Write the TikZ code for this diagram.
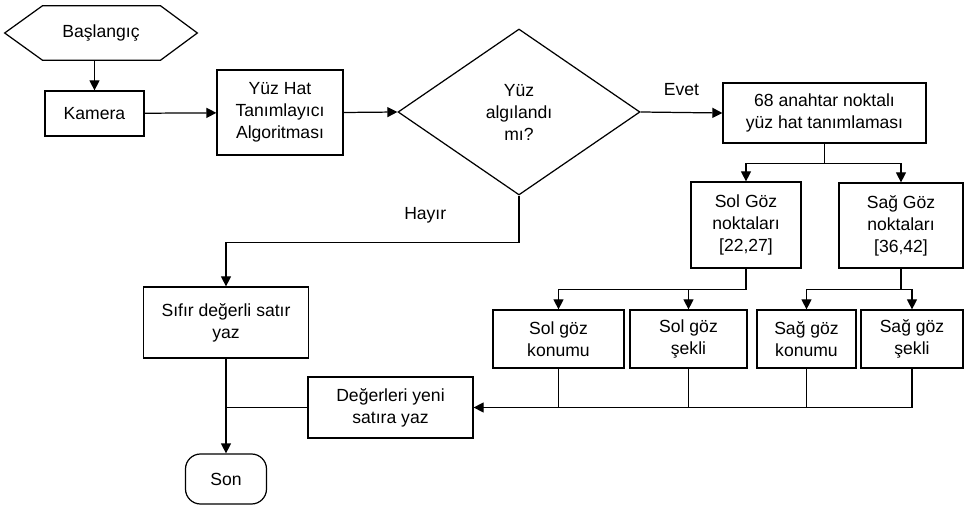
\documentclass[tikz,border=0pt]{standalone}
\usepackage{fontspec}
\setmainfont{Liberation Sans}
\usetikzlibrary{shapes.geometric,arrows.meta}

\begin{document}
\begin{tikzpicture}[font=\fontsize{10}{12.5}\selectfont]
    % Define styles
    \tikzset{
        box/.style={rectangle, draw, line width=0.7pt, align=center, inner sep=2pt},
        decision/.style={diamond, draw, line width=0.7pt, aspect=1.46, minimum width=4.84cm, minimum height=3.32cm, inner sep=0pt, align=center},
        terminal/.style={rectangle, rounded corners=0.3cm, draw, line width=0.7pt, minimum width=1.62cm, minimum height=1cm},
        arrow/.style={-{Triangle[width=0.2cm,length=0.2cm]}, line width=0.7pt},
        link/.style={line width=0.7pt},
        tag/.style={inner sep=2pt},
    }
    \useasboundingbox (0,0) rectangle (19.28,-10.14);

    % Start and camera
    \node[minimum width=3.84cm, minimum height=1.08cm] (start) at (2.02,-0.66) {Başlangıç};
    \draw[link] (start.west) -- ([xshift=0.76cm]start.north west) -- ([xshift=-0.74cm]start.north east)
        -- (start.east) -- ([xshift=-0.74cm]start.south east) -- ([xshift=0.76cm]start.south west) -- cycle;
    \node[box, minimum width=1.98cm, minimum height=0.9cm] (kamera) at (1.89,-2.27) {Kamera};
    \node[box, minimum width=2.52cm, minimum height=1.7cm] (yuzhat) at (5.6,-2.25) {Yüz Hat\\Tanımlayıcı\\Algoritması};
    \node[decision] (karar) at (10.38,-2.24) {Yüz\\algılandı\\mı?};

    \draw[arrow] (kamera.north |- start.south) -- (kamera.north);
    \draw[arrow] (kamera) -- (yuzhat);
    \draw[arrow] (yuzhat.east) -- (karar.west);

    % Face detected
    \node[box, minimum width=4.06cm, minimum height=1.2cm] (nokta68) at (16.49,-2.26) {68 anahtar noktalı\\yüz hat tanımlaması};
    \draw[arrow] (karar.east) -- (nokta68.west) node[tag, midway, above=0.26cm] {Evet};

    \node[box, minimum width=2.2cm, minimum height=1.72cm] (solgoz) at (14.92,-4.5) {Sol Göz\\noktaları\\{[22,27]}};
    \node[box, minimum width=2.48cm, minimum height=1.7cm] (saggoz) at (18.02,-4.51) {Sağ Göz\\noktaları\\{[36,42]}};

    \coordinate (split68) at ([yshift=-0.4cm]nokta68.south);
    \draw[link] (nokta68.south) -- (split68);
    \draw[arrow] (split68) -| (solgoz.north);
    \draw[arrow] (split68) -| (saggoz.north);

    \node[box, minimum width=2.62cm, minimum height=1.16cm] (solkonum) at (11.17,-6.78) {Sol göz\\konumu};
    \node[box, minimum width=2.34cm, minimum height=1.16cm] (solsekil) at (13.77,-6.78) {Sol göz\\şekli};
    \node[box, minimum width=1.98cm, minimum height=1.16cm] (sagkonum) at (16.13,-6.78) {Sağ göz\\konumu};
    \node[box, minimum width=2.04cm, minimum height=1.16cm] (sagsekil) at (18.24,-6.78) {Sağ göz\\şekli};

    \coordinate (splitsol) at ([yshift=-0.42cm]solgoz.south);
    \coordinate (splitsag) at ([yshift=-0.42cm]saggoz.south);
    \draw[link] (solgoz.south) -- (splitsol);
    \draw[arrow] (splitsol) -| (solkonum.north);
    \draw[arrow] (splitsol) -| (solsekil.north);
    \draw[link] (saggoz.south) -- (splitsag);
    \draw[arrow] (splitsag) -| (sagkonum.north);
    \draw[arrow] (splitsag) -| (sagsekil.north);

    % Write values
    \node[box, minimum width=3.3cm, minimum height=1.22cm] (degerler) at (7.81,-8.15) {Değerleri yeni\\satıra yaz};
    \draw[arrow] (sagsekil.south) |- (degerler.east);
    \draw[link] (solkonum.south) -- (solkonum.south |- degerler.east);
    \draw[link] (solsekil.south) -- (solsekil.south |- degerler.east);
    \draw[link] (sagkonum.south) -- (sagkonum.south |- degerler.east);

    % Face not detected
    \node[box, minimum width=3.3cm, minimum height=1.42cm] (sifir) at (4.52,-6.45) {Sıfır değerli satır\\yaz};
    \draw[arrow] (karar.south) -- ([yshift=-0.94cm]karar.south) -| (sifir.north)
        node[tag, pos=0.16, above=0.3cm] {Hayır};

    % End
    \node[terminal] (son) at (4.52,-9.58) {Son};
    \draw[arrow] (sifir.south) -- (son.north);
    \draw[link] (degerler.west) -- (degerler.west -| sifir.south);
\end{tikzpicture}
\end{document}
